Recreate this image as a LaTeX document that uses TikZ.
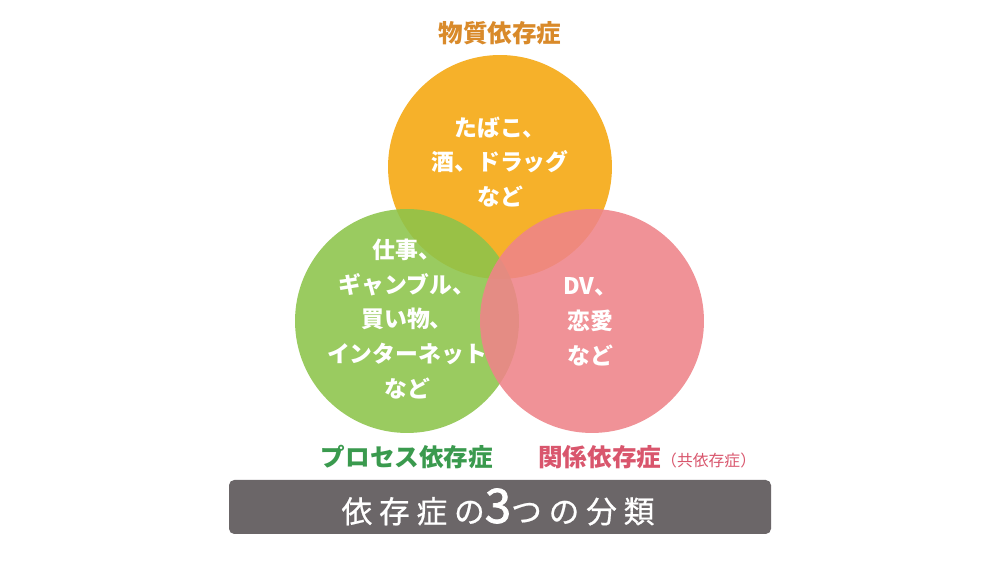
\documentclass[tikz,border=0pt]{standalone}
\usepackage{fontspec}
\setmainfont{Noto Sans CJK JP}
\usepackage{xcolor}
\usepackage{tikz}

\definecolor{substorange}{HTML}{F6B12A}
\definecolor{procgreen}{HTML}{8DC44A}
\definecolor{relpink}{HTML}{EF8489}
\definecolor{substtext}{HTML}{D98A2A}
\definecolor{proctext}{HTML}{3A9A4E}
\definecolor{reltext}{HTML}{D9566D}
\definecolor{bargray}{HTML}{6B6668}

\tikzset{
  venn/.style={circle, minimum size=4.48cm, inner sep=0pt},
  inside/.style={align=center, text=white, font=\fontsize{13}{19.8}\selectfont\bfseries},
  caption/.style={font=\fontsize{14}{16}\selectfont\bfseries},
}

\begin{document}
\begin{tikzpicture}[x=0.02cm, y=0.02cm]

        \useasboundingbox [fill=white] (0,0) rectangle (1000,563);

        %Circles
        \node [venn, fill=substorange] (subst) at (500,396) {};
        \node [venn, fill=procgreen, fill opacity=0.88] (proc) at (407,242) {};
        \node [venn, fill=relpink, fill opacity=0.88] (rel) at (592,242) {};

        %Substance
        \node [caption, text=substtext] (substname) at (500,530) {物質依存症};
        \node [inside] (substitems) at (500,401) {たばこ、\\酒、ドラッグ\\など};

        %Process
        \node [caption, text=proctext] (procname) at (407,106) {プロセス依存症};
        \node [inside] (procitems) at (407,244) {仕事、\\ギャンブル、\\買い物、\\インターネット\\など};

        %Relationship
        \node [caption, text=reltext, anchor=west] (relname) at (532,106) {関係依存症{\fontsize{9}{10}\selectfont\mdseries（共依存症）}};
        \node [inside] (relitems) at (590,241) {DV、\\恋愛\\など};

        %Title bar
        \draw [fill=bargray, draw=none, rounded corners=3] (229,29) rectangle (771,83);
        \node [text=white, font=\fontsize{17.5}{20}\selectfont\addfontfeatures{LetterSpace=22,FakeBold=0.6}] (title) at (498,56)
          {依存症の{\fontsize{27}{28}\selectfont\addfontfeatures{FakeBold=1.6}3}つの分類};
      \end{tikzpicture}
\end{document}
